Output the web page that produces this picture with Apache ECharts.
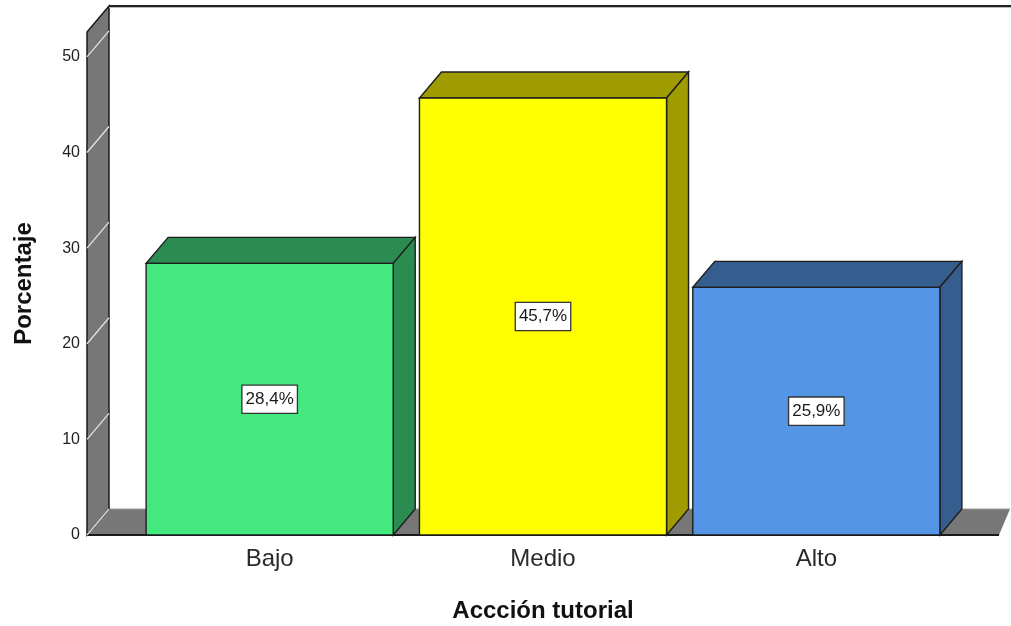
<!DOCTYPE html>
<html>
<head>
<meta charset="utf-8">
<script src="https://cdn.jsdelivr.net/npm/echarts@6/dist/echarts.min.js"></script>
<style>
  html, body { margin: 0; padding: 0; background: #fff; }
  #chart { width: 1011px; height: 626px; }
</style>
</head>
<body>
<div id="chart"></div>
<script>
// Categories and percentages
const categories = ['Bajo', 'Medio', 'Alto'];
const percentages = [28.4, 45.7, 25.9];
const yTickValues = [0, 10, 20, 30, 40, 50];
// Upper end of the value axis (top of the walls)
const AXIS_CEILING = 52.6;

// Bar colours: front face and shaded top/side faces
const faceColors = ['#43E97F', '#FFFF00', '#5595E6'];
const shadeColors = ['#2A8C50', '#A09B00', '#355E8F'];

// Oblique depth offset of the pseudo-3D box
const DX = 22, DY = -26;
const WALL_GAP = 46;   // horizontal gap between wall front and first band
const BAR_RATIO = 0.904;
const FONT = '"Liberation Sans", Arial, sans-serif';

function renderFrame(params, api) {
  const cs = params.coordSys;
  const base = api.coord([0, 0])[1];
  const top = api.coord([0, AXIS_CEILING])[1];
  const xl = cs.x - WALL_GAP;
  const xr = cs.x + cs.width + WALL_GAP;
  const children = [];
  // floor
  children.push({
    type: 'polygon',
    shape: { points: [[xl, base], [xr, base], [xr + 11, base + DY], [xl + DX, base + DY]] },
    style: { fill: '#777777' }
  });
  children.push({
    type: 'line',
    shape: { x1: xl + DX, y1: base + DY, x2: xr + 11, y2: base + DY },
    style: { stroke: '#9a9a9a', lineWidth: 1 }
  });
  children.push({
    type: 'line',
    shape: { x1: xl, y1: base, x2: xr, y2: base },
    style: { stroke: '#1a1a1a', lineWidth: 2 }
  });
  // left side wall
  children.push({
    type: 'polygon',
    shape: { points: [[xl, base], [xl, top], [xl + DX, top + DY], [xl + DX, base + DY]] },
    style: { fill: '#777777', stroke: '#1a1a1a', lineWidth: 1.5 }
  });
  // gridlines running across the side wall
  yTickValues.forEach(function (v) {
    const y = api.coord([0, v])[1];
    children.push({
      type: 'line',
      shape: { x1: xl, y1: y, x2: xl + DX, y2: y + DY },
      style: { stroke: '#e6e6e6', lineWidth: 1.2 }
    });
  });
  // top edge of the back wall
  children.push({
    type: 'line',
    shape: { x1: xl + DX, y1: top + DY, x2: cs.x + cs.width + 200, y2: top + DY },
    style: { stroke: '#222222', lineWidth: 2 }
  });
  children.push({
    type: 'line',
    shape: { x1: xl + DX, y1: top + DY + 1.5, x2: cs.x + cs.width + 200, y2: top + DY + 1.5 },
    style: { stroke: '#bbbbbb', lineWidth: 1 }
  });
  return { type: 'group', children: children };
}

function renderBar(params, api) {
  const i = api.value(0);
  const v = api.value(1);
  const topPt = api.coord([i, v]);
  const cx = topPt[0], yTop = topPt[1];
  const yBase = api.coord([i, 0])[1];
  const w = api.size([1, 0])[0] * BAR_RATIO;
  const l = cx - w / 2, r = cx + w / 2;
  const edge = { stroke: '#1e1e1e', lineWidth: 1.4 };
  return {
    type: 'group',
    children: [
      {
        type: 'polygon',
        shape: { points: [[l, yTop], [r, yTop], [r + DX, yTop + DY], [l + DX, yTop + DY]] },
        style: Object.assign({ fill: shadeColors[i] }, edge)
      },
      {
        type: 'polygon',
        shape: { points: [[r, yTop], [r + DX, yTop + DY], [r + DX, yBase + DY], [r, yBase]] },
        style: Object.assign({ fill: shadeColors[i] }, edge)
      },
      {
        type: 'rect',
        shape: { x: l, y: yTop, width: w, height: yBase - yTop },
        style: Object.assign({ fill: faceColors[i] }, edge)
      },
      {
        type: 'text',
        x: cx,
        y: (yTop + yBase) / 2,
        style: {
          text: v.toFixed(1).replace('.', ',') + '%',
          align: 'center',
          verticalAlign: 'middle',
          font: '17px ' + FONT,
          fill: '#1a1a1a',
          backgroundColor: '#ffffff',
          borderColor: '#333333',
          borderWidth: 1.3,
          padding: [6, 3, 4, 3]
        }
      }
    ]
  };
}

const chart = echarts.init(document.getElementById('chart'), null, { renderer: 'canvas' });
chart.setOption({
  animation: false,
  backgroundColor: '#ffffff',
  grid: { left: 133, right: 58, top: 32, bottom: 91, containLabel: false, outerBoundsMode: 'none' },
  xAxis: {
    type: 'category',
    data: categories,
    axisLine: { show: false },
    axisTick: { show: false },
    axisLabel: { fontSize: 24, color: '#2a2a2a', fontFamily: FONT, margin: 12 },
    name: 'Accción tutorial',
    nameLocation: 'middle',
    nameGap: 64,
    nameTextStyle: { fontSize: 24, fontWeight: 'bold', color: '#111', fontFamily: FONT }
  },
  yAxis: {
    type: 'value',
    min: 0,
    max: AXIS_CEILING,
    interval: 10,
    axisLine: { show: false },
    axisTick: { show: false },
    splitLine: { show: false },
    axisLabel: {
      showMaxLabel: false,
      fontSize: 16,
      color: '#222',
      fontFamily: FONT,
      margin: 53,
      padding: [6, 0, 0, 0]
    },
    name: 'Porcentaje',
    nameLocation: 'middle',
    nameRotate: 90,
    nameGap: 97,
    nameTextStyle: { fontSize: 24, fontWeight: 'bold', color: '#111', fontFamily: FONT }
  },
  series: [
    {
      type: 'custom',
      z: 1,
      silent: true,
      data: [[0, 0]],
      encode: { x: 0, y: 1 },
      renderItem: renderFrame
    },
    {
      type: 'custom',
      z: 2,
      data: percentages.map(function (v, i) { return [i, v]; }),
      encode: { x: 0, y: 1 },
      renderItem: renderBar
    }
  ]
});
</script>
</body>
</html>
